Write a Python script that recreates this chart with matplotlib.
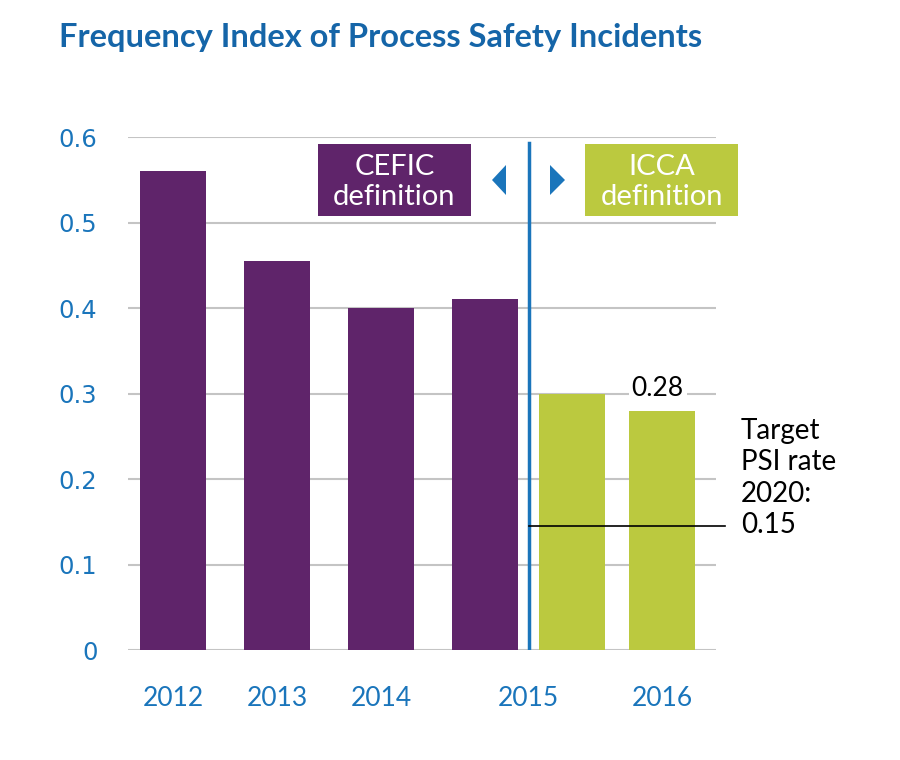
import matplotlib.pyplot as plt
from matplotlib.patches import Rectangle, Polygon

years = ["2012", "2013", "2014", "2015", "2016"]
cefic_years = ["2012", "2013", "2014", "2015"]
cefic_values = [0.56, 0.455, 0.40, 0.41]
icca_years = ["2015", "2016"]
icca_values = [0.30, 0.28]
target_value = 0.145
target_label = "Target\nPSI rate\n2020:\n0.15"
title = "Frequency Index of Process Safety Incidents"

PURPLE = "#5f246a"
GREEN = "#bbc93f"
BLUE = "#1a75bb"
TITLE_BLUE = "#1565a8"
FONT = "Lato"


def fx(px):
    return px / 900


def fy(py):
    return 1 - py / 760


def make_chart():
    fig = plt.figure(figsize=(9, 7.6), dpi=100)
    ax = fig.add_axes([0.1422, 0.1447, 0.6533, 0.675])

    # positions of the bars
    cefic_x = list(range(len(cefic_values)))
    icca_x = [3.84, 4.70]
    split = (cefic_x[-1] + icca_x[0]) / 2

    ax.bar(cefic_x, cefic_values, width=0.635, color=PURPLE, zorder=3)
    ax.bar(icca_x, icca_values, width=0.635, color=GREEN, zorder=3)

    ax.set_xlim(-0.433, 5.22)
    ax.set_ylim(0, 0.6)
    ax.set_yticks([0, 0.1, 0.2, 0.3, 0.4, 0.5, 0.6])
    ax.set_yticklabels(["0", "0.1", "0.2", "0.3", "0.4", "0.5", "0.6"],
                       fontsize=17.5, color=BLUE, family="DejaVu Sans")
    ax.set_xticks(cefic_x[:3] + [split, icca_x[1]])
    ax.set_xticklabels(years, fontsize=19, color=BLUE, family=FONT)
    ax.tick_params(axis="both", length=0)
    ax.tick_params(axis="y", pad=22)
    ax.tick_params(axis="x", pad=26)
    ax.grid(axis="y", color="#c4c4c4", linewidth=1.5, zorder=0)
    for s in ax.spines.values():
        s.set_visible(False)

    # divider between the two definitions
    ax.plot([split, split], [0, 0.593], color=BLUE, linewidth=2.5, zorder=4)

    # target line
    ax.plot([split, 5.31], [target_value, target_value], color="black",
            linewidth=1.2, zorder=5, clip_on=False)
    fig.text(fx(741), fy(418), target_label, fontsize=20,
             family=FONT, color="black", va="top", ha="left", linespacing=1.25)

    # value label of last bar
    ax.annotate(f"{icca_values[-1]:.2f}", (icca_x[1] - 0.04, icca_values[-1]),
                xytext=(0, 16), textcoords="offset points", ha="center",
                va="center", fontsize=19, family=FONT, color="black", zorder=6,
                bbox=dict(facecolor="white", edgecolor="none", pad=2))

    # definition boxes
    for x0, colr, txt in [(318, PURPLE, "CEFIC\ndefinition"),
                          (585, GREEN, "ICCA\ndefinition")]:
        fig.patches.append(Rectangle((fx(x0), fy(216)), 153 / 900, 72 / 760,
                                     transform=fig.transFigure, facecolor=colr,
                                     edgecolor="none", zorder=5))
        fig.text(fx(x0 + 76.5), fy(182), txt, ha="center", va="center",
                 color="white", fontsize=21, family=FONT, linespacing=1.15, zorder=6)

    # arrows
    fig.patches.append(Polygon([(fx(492), fy(180)), (fx(506), fy(165)), (fx(506), fy(195))],
                               closed=True, transform=fig.transFigure,
                               facecolor=BLUE, edgecolor="none"))
    fig.patches.append(Polygon([(fx(565), fy(180)), (fx(550), fy(165)), (fx(550), fy(195))],
                               closed=True, transform=fig.transFigure,
                               facecolor=BLUE, edgecolor="none"))

    fig.text(fx(59), fy(38), title, ha="left", va="center",
             color=TITLE_BLUE, fontsize=23.5, fontweight="bold", family=FONT)

    fig.savefig("out.png", dpi=100, facecolor="white")


if __name__ == "__main__":
    make_chart()
